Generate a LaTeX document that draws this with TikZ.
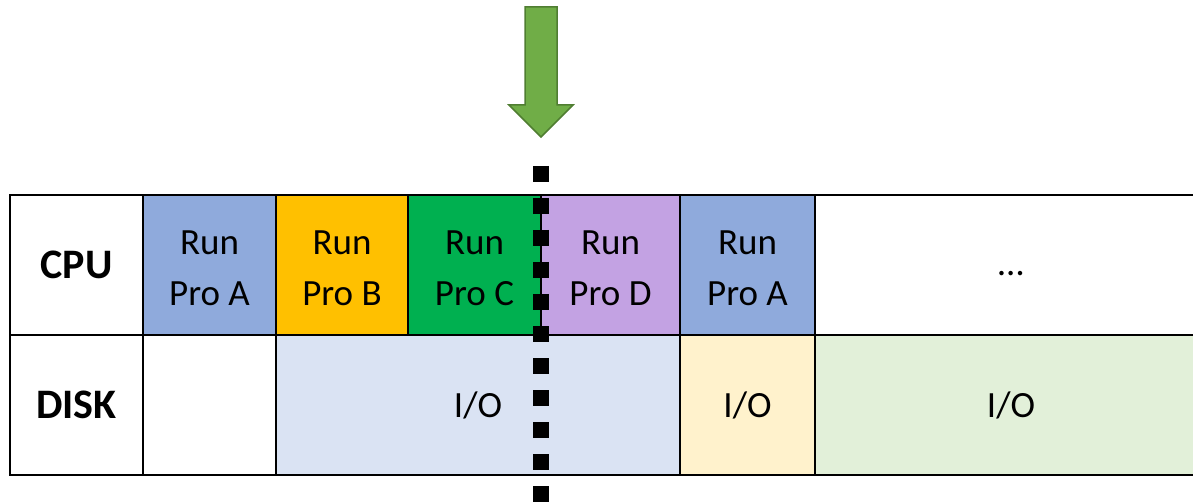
\documentclass[tikz,border=0pt]{standalone}
\usepackage{fontspec}
\setmainfont{Carlito}
\definecolor{proA}{HTML}{8FAADC}
\definecolor{proB}{HTML}{FFC000}
\definecolor{proC}{HTML}{00B050}
\definecolor{proD}{HTML}{C3A2E3}
\definecolor{ioblue}{HTML}{DAE3F3}
\definecolor{ioyellow}{HTML}{FFF2CC}
\definecolor{iogreen}{HTML}{E2F0D9}
\definecolor{arrowfill}{HTML}{70AD47}
\definecolor{arrowedge}{HTML}{507E32}
\begin{document}
\begin{tikzpicture}[x=1pt,y=1pt,
  cell/.style={draw=black, line width=2.5pt, inner sep=0pt, outer sep=0pt,
    minimum height=140pt, align=center, text=black,
    font=\fontsize{37}{51}\selectfont},
  celltext/.style={inner sep=0pt, align=center, text=black,
    font=\fontsize{37}{51}\selectfont},
  rowlabel/.style={cell, font=\fontsize{42}{50}\selectfont\bfseries},
  dotline/.style={line width=16pt, dash pattern=on 16pt off 16pt, black},
  bigarrow/.style={fill=arrowfill, draw=arrowedge, line width=1.5pt, line join=miter}]
\useasboundingbox (0,0) rectangle (1193,-502);
\begin{scope}
\clip (0,0) rectangle (1193,-502);
% CPU row
\node[rowlabel, minimum width=133pt] (lcpu) at (76.5,-265) {CPU};
\node[cell, fill=proA, minimum width=133pt] (runA1) at (209.5,-265) {};
\node[cell, fill=proB, minimum width=132pt] (runB) at (342,-265) {};
\node[cell, fill=proC, minimum width=133pt] (runC) at (474.5,-265) {};
\node[cell, fill=proD, minimum width=139pt] (runD) at (610.5,-265) {};
\node[cell, fill=proA, minimum width=135pt] (runA2) at (747.5,-265) {};
\node[cell, fill=white, minimum width=392pt] (more) at (1011,-265) {\strut…};
\node[celltext] (tA1) at ([yshift=-3pt]runA1.center) {Run\\Pro A};
\node[celltext] (tB) at ([yshift=-3pt]runB.center) {Run\\Pro B};
\node[celltext] (tC) at ([yshift=-3pt]runC.center) {Run\\Pro C};
\node[celltext] (tD) at ([yshift=-3pt]runD.center) {Run\\Pro D};
\node[celltext] (tA2) at ([yshift=-3pt]runA2.center) {Run\\Pro A};
% DISK row
\node[rowlabel, minimum width=133pt] (ldisk) at (76.5,-405) {DISK};
\node[cell, fill=white, minimum width=133pt] (idle) at (209.5,-405) {};
\node[cell, fill=ioblue, minimum width=404pt] (io1) at (478,-405) {I/O};
\node[cell, fill=ioyellow, minimum width=135pt] (io2) at (747.5,-405) {I/O};
\node[cell, fill=iogreen, minimum width=392pt] (io3) at (1011,-405) {I/O};
% dotted marker line
\coordinate (dtop) at (541,-166);
\coordinate (dbot) at (541,-502);
\draw[dotline] (dtop) -- (dbot);
% arrow
\draw[bigarrow] (525,-7) -- (557,-7) -- (557,-105) -- (573,-105) -- (541,-137)
  -- (509,-105) -- (525,-105) -- cycle;
\end{scope}
\end{tikzpicture}
\end{document}
